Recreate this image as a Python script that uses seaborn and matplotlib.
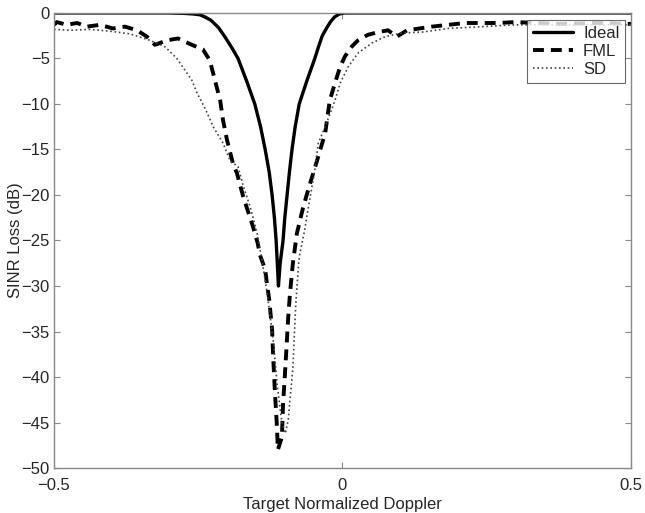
import matplotlib
matplotlib.use('Agg')
import matplotlib.pyplot as plt
import seaborn as sns
import numpy as np

# values
ideal_x = [-0.5, -0.4, -0.3, -0.273, -0.26, -0.247, -0.238, -0.228, -0.215, -0.204,
           -0.192, -0.181, -0.166, -0.152, -0.142, -0.134, -0.127, -0.122, -0.118,
           -0.115, -0.113, -0.111, -0.108, -0.103, -0.100, -0.096, -0.092, -0.0875,
           -0.082, -0.075, -0.062, -0.048, -0.041, -0.035, -0.027, -0.020, -0.013,
           -0.005, 0.004, 0.03, 0.2, 0.5]
ideal_y = [0, 0, 0, -0.05, -0.1, -0.2, -0.45, -0.8, -1.6, -2.6,
           -3.8, -5, -7.5, -10, -12.5, -15, -17.5, -20, -22.5,
           -25, -27.5, -30, -27.5, -25, -22.5, -20, -17.5, -15,
           -12.5, -10, -7.5, -5, -3.6, -2.5, -1.6, -0.9, -0.4,
           -0.1, 0, 0, 0, 0]

fml_x = [-0.5, -0.495, -0.478, -0.460, -0.443, -0.420, -0.398, -0.377, -0.356, -0.339,
         -0.325, -0.304, -0.285, -0.261, -0.242, -0.230, -0.221, -0.212, -0.207, -0.200,
         -0.190, -0.183, -0.172, -0.155, -0.147, -0.143, -0.134, -0.131, -0.127, -0.122,
         -0.120, -0.117, -0.114, -0.112, -0.105, -0.103, -0.100, -0.098, -0.094, -0.091,
         -0.086, -0.079, -0.068, -0.056, -0.044, -0.030, -0.022, -0.013, -0.004, 0.004,
         0.016, 0.027, 0.044, 0.062, 0.079, 0.094, 0.112, 0.155, 0.212, 0.270,
         0.299, 0.377, 0.446, 0.5]
fml_y = [-1.3, -1.0, -1.3, -1.1, -1.5, -1.3, -1.7, -1.5, -1.9, -2.6,
         -3.5, -3.0, -2.8, -3.5, -4.0, -5.2, -7.4, -9.6, -11.8, -14.0,
         -16.5, -17.6, -20.2, -23.5, -25.3, -26.6, -28.2, -29.7, -31.5, -34.8,
         -38.0, -41.8, -45.0, -48.0, -46.6, -42.9, -40.0, -37.8, -33.4, -30.8,
         -27.5, -24.2, -21.3, -18.7, -16.2, -13.2, -9.6, -7.7, -5.9, -4.8,
         -3.7, -3.0, -2.4, -2.1, -1.9, -2.6, -1.9, -1.5, -1.1, -1.1,
         -1.0, -1.2, -1.1, -1.2]

sd_x = [-0.5, -0.472, -0.438, -0.403, -0.368, -0.334, -0.308, -0.287, -0.261, -0.252,
        -0.238, -0.224, -0.207, -0.195, -0.181, -0.172, -0.160, -0.148, -0.140, -0.130,
        -0.120, -0.113, -0.105, -0.099, -0.094, -0.091, -0.086, -0.081, -0.076, -0.074,
        -0.066, -0.056, -0.048, -0.042, -0.030, -0.013, -0.004, 0.010, 0.027, 0.051,
        0.074, 0.103, 0.138, 0.183, 0.242, 0.299, 0.4, 0.5]
sd_y = [-1.8, -1.9, -1.8, -2.0, -2.3, -3.0, -3.7, -5.0, -7.4, -8.8,
        -10.5, -12.5, -14.3, -16.2, -16.9, -19.0, -21.3, -24.2, -27.0, -31.0,
        -36.0, -41.0, -45.0, -46.2, -44.7, -42.5, -39.0, -32.0, -27.5, -26.5,
        -24.0, -20.2, -17.3, -14.3, -12.5, -9.6, -7.7, -5.9, -4.4, -3.3,
        -2.6, -2.2, -2.1, -1.7, -1.5, -1.3, -1.3, -1.3]

y_ticks = list(range(-50, 1, 5))
x_ticks = [-0.5, 0, 0.5]
x_labels = ['\u22120.5', '0', '0.5']

sns.set_style('ticks')
plt.rcParams['font.family'] = ['Liberation Sans', 'DejaVu Sans']
plt.rcParams['xtick.direction'] = 'in'
plt.rcParams['ytick.direction'] = 'in'

fig = plt.figure(figsize=(6.45, 5.13), dpi=100)
ax = fig.add_axes([0.0837, 0.0877, 0.8946, 0.887])

sns.lineplot(x=ideal_x, y=ideal_y, ax=ax, color='black', linewidth=2.4,
             label='Ideal', sort=False)
sns.lineplot(x=fml_x, y=fml_y, ax=ax, color='black', linewidth=2.8,
             linestyle=(0, (2.8, 1.8)), label='FML', sort=False)
sns.lineplot(x=sd_x, y=sd_y, ax=ax, color='#444444', linewidth=1.2,
             linestyle=(0, (1, 1.6)), label='SD', sort=False)

ax.set_xlim(-0.5, 0.5)
ax.set_ylim(-50, 0)
ax.set_xticks(x_ticks)
ax.set_xticklabels(x_labels)
ax.set_yticks(y_ticks)
ax.tick_params(axis='both', which='major', labelsize=12, length=4, width=0.8,
               color='#888888', top=True, right=True)
ax.tick_params(axis='x', pad=7)
ax.tick_params(axis='y', pad=3)
for sp in ax.spines.values():
    sp.set_color('#888888')
    sp.set_linewidth(1.0)

ax.set_xlabel('Target Normalized Doppler', fontsize=12, labelpad=3)
ax.set_ylabel('SINR Loss (dB)', fontsize=12, labelpad=-1)

leg = ax.legend(loc='upper right', fontsize=12, frameon=True, fancybox=False,
                handlelength=2.4, handletextpad=0.6, borderpad=0.35,
                labelspacing=0.2, borderaxespad=0.0, bbox_to_anchor=(0.99, 0.985))
leg.get_frame().set_edgecolor('#444444')
leg.get_frame().set_linewidth(0.8)

fig.savefig('out.png', dpi=100)
